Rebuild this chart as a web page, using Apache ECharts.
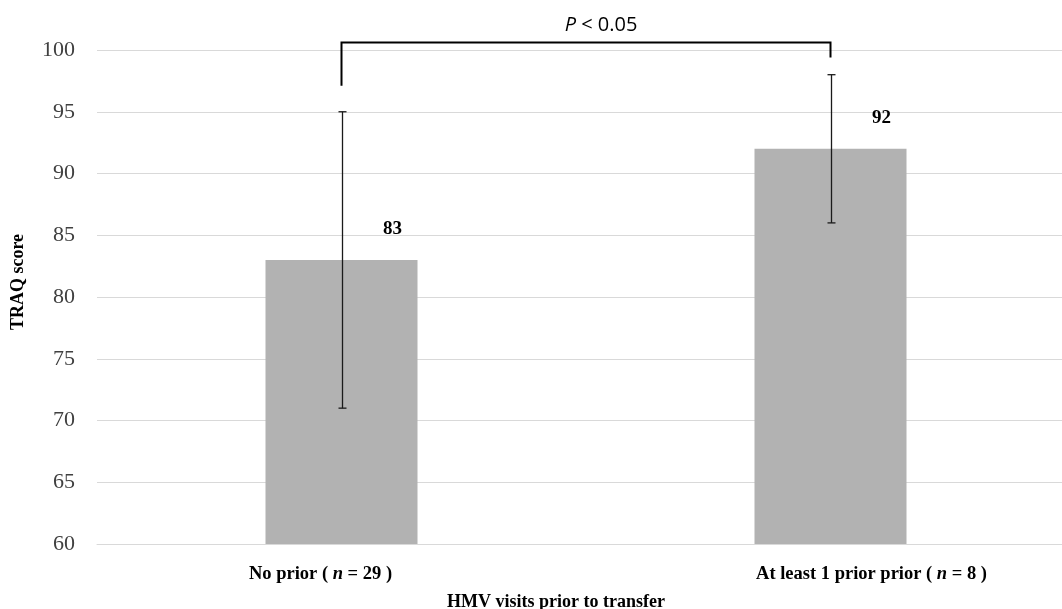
<!DOCTYPE html>
<html>
<head>
<meta charset="utf-8">
<script src="https://cdn.jsdelivr.net/npm/echarts@6/dist/echarts.min.js"></script>
<style>
  html, body { margin: 0; padding: 0; background: #fff; }
  #chart { width: 1062px; height: 609px; }
</style>
</head>
<body>
<div id="chart"></div>
<script>
const groups = ["No prior", "At least 1 prior prior"];
const groupN = [29, 8];
const traqMean = [83, 92];
const errLow = [71, 86];
const errHigh = [95, 98];
// bracket: [left bar, right bar, left foot, top, right foot]
const bracket = [[0, 1, 97.1, 100.6, 99.4]];
const pText = "P < 0.05";
const yTicks = { min: 60, max: 100, interval: 5 };

const chart = echarts.init(document.getElementById("chart"));

const serif = "Liberation Serif";

chart.setOption({
  animation: false,
  backgroundColor: "#fff",
  grid: { left: 97, width: 978, top: 50, height: 494, outerBoundsMode: "none", containLabel: false },
  xAxis: {
    type: "category",
    data: groups,
    name: "HMV visits prior to transfer",
    nameLocation: "middle",
    nameGap: 49,
    nameTextStyle: {
      fontFamily: serif, fontWeight: "bold", fontSize: 18, color: "#000",
      padding: [0, 60, 0, 0],
    },
    axisLine: { lineStyle: { color: "#d9d9d9", width: 1 } },
    axisTick: { show: false },
    axisLabel: {
      margin: 21,
      formatter: (value, idx) => {
        const body = `{b|${value} ( }{i|n}{b| = ${groupN[idx]} )}`;
        return idx === 0 ? body + "{sp|}" : "{sp2|}" + body;
      },
      rich: {
        b: { fontFamily: serif, fontWeight: "bold", fontSize: 18.5, color: "#000" },
        i: { fontFamily: serif, fontWeight: "bold", fontStyle: "italic", fontSize: 18.5, color: "#000" },
        sp: { width: 42 },
        sp2: { width: 82 },
      },
    },
  },
  yAxis: {
    type: "value",
    min: yTicks.min,
    max: yTicks.max,
    interval: yTicks.interval,
    name: "TRAQ score",
    nameLocation: "middle",
    nameGap: 70,
    nameTextStyle: {
      fontFamily: serif, fontWeight: "bold", fontSize: 18, color: "#000",
      padding: [0, 0, 0, 30],
    },
    axisLine: { show: false },
    axisTick: { show: false },
    axisLabel: { margin: 22, fontFamily: serif, fontSize: 22, color: "#404040" },
    splitLine: { lineStyle: { color: "#d9d9d9", width: 1 } },
  },
  series: [
    {
      type: "bar",
      data: traqMean,
      barWidth: 152,
      itemStyle: { color: "#b2b2b2" },
      label: {
        show: true,
        position: "top",
        offset: [51, -16],
        fontFamily: serif,
        fontWeight: "bold",
        fontSize: 19,
        color: "#000",
      },
      z: 2,
    },
    {
      type: "custom",
      data: errLow.map((lo, i) => [i, lo, errHigh[i]]),
      z: 5,
      renderItem: (params, api) => {
        const top = api.coord([api.value(0), api.value(2)]);
        const bot = api.coord([api.value(0), api.value(1)]);
        const x = Math.round(top[0]) + 0.5;
        const s = { stroke: "#1a1a1a", lineWidth: 1.3 };
        return {
          type: "group",
          children: [
            { type: "line", shape: { x1: x, y1: top[1], x2: x, y2: bot[1] }, style: s },
            { type: "line", shape: { x1: x - 4, y1: top[1], x2: x + 4, y2: top[1] }, style: s },
            { type: "line", shape: { x1: x - 4, y1: bot[1], x2: x + 4, y2: bot[1] }, style: s },
          ],
        };
      },
    },
    {
      type: "custom",
      data: bracket,
      z: 6,
      clip: false,
      renderItem: (params, api) => {
        const a = api.coord([api.value(0), api.value(2)]);
        const b = api.coord([api.value(0), api.value(3)]);
        const c = api.coord([api.value(1), api.value(3)]);
        const d = api.coord([api.value(1), api.value(4)]);
        return {
          type: "group",
          children: [
            {
              type: "polyline",
              shape: { points: [a, b, c, d] },
              style: { stroke: "#000", lineWidth: 2, fill: null },
            },
            {
              type: "text",
              style: {
                x: (b[0] + c[0]) / 2 + 15,
                y: b[1] - 17,
                text: "{p|P}{t| < 0.05}",
                align: "center",
                verticalAlign: "middle",
                rich: {
                  p: { fontFamily: "Open Sans", fontStyle: "italic", fontSize: 20, fill: "#000" },
                  t: { fontFamily: "Open Sans", fontSize: 20, fill: "#000" },
                },
              },
            },
          ],
        };
      },
    },
  ],
});
</script>
</body>
</html>
